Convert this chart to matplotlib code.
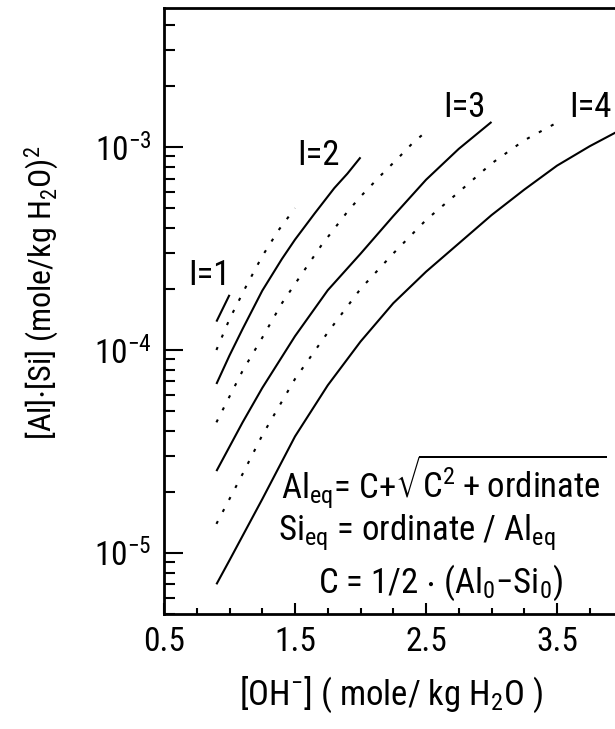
import numpy as np
import matplotlib
matplotlib.use('Agg')
import matplotlib.pyplot as plt
from matplotlib import font_manager
from matplotlib.ticker import FixedLocator, LogLocator, LogFormatterMathtext, NullFormatter

# pick a narrow sans face if the system has one
names = {f.name for f in font_manager.fontManager.ttflist}
if 'Roboto Condensed' in names:
    font = 'Roboto Condensed'
elif 'Liberation Sans Narrow' in names:
    font = 'Liberation Sans Narrow'
else:
    font = 'Liberation Sans'
plt.rcParams['font.family'] = [font, 'DejaVu Sans']
plt.rcParams['mathtext.default'] = 'regular'

# [OH-] (mole/kg H2O) vs [Al]*[Si] product, one series per ionic strength
x_i1 = [0.9, 1.0]
y_i1 = [1.38e-4, 1.87e-4]

x_i15 = [0.9, 1.0, 1.125, 1.25, 1.375, 1.5]
y_i15 = [1.0e-4, 1.42e-4, 2.05e-4, 2.9e-4, 3.9e-4, 5.0e-4]

x_i2 = [0.9, 1.0, 1.1, 1.25, 1.4, 1.5, 1.65, 1.8, 1.9, 2.0]
y_i2 = [6.8e-5, 9.4e-5, 1.27e-4, 1.96e-4, 2.81e-4, 3.5e-4, 4.71e-4, 6.28e-4, 7.4e-4, 8.9e-4]

x_i25 = [0.9, 1.0, 1.1, 1.25, 1.4, 1.55, 1.7, 1.9, 2.0, 2.15, 2.3, 2.4, 2.5]
y_i25 = [4.4e-5, 5.9e-5, 7.9e-5, 1.15e-4, 1.7e-4, 2.36e-4, 3.27e-4, 4.8e-4, 5.7e-4,
         7.2e-4, 9.0e-4, 1.05e-3, 1.19e-3]

x_i3 = [0.9, 1.1, 1.25, 1.5, 1.75, 2.0, 2.25, 2.5, 2.75, 3.0]
y_i3 = [2.53e-5, 4.4e-5, 6.5e-5, 1.17e-4, 1.97e-4, 2.98e-4, 4.57e-4, 6.9e-4, 9.8e-4, 1.33e-3]

x_i35 = [0.9, 1.1, 1.25, 1.5, 1.75, 2.0, 2.25, 2.5, 2.75, 3.0, 3.25, 3.5]
y_i35 = [1.39e-5, 2.45e-5, 3.8e-5, 7.2e-5, 1.22e-4, 2.0e-4, 2.99e-4, 4.37e-4, 6.0e-4,
         8.3e-4, 1.08e-3, 1.32e-3]

x_i4 = [0.9, 1.0, 1.25, 1.5, 1.75, 2.0, 2.25, 2.5, 2.75, 3.0, 3.25, 3.5, 3.75, 4.0]
y_i4 = [7.0e-6, 9.2e-6, 1.84e-5, 3.75e-5, 6.7e-5, 1.1e-4, 1.7e-4, 2.43e-4, 3.35e-4,
        4.62e-4, 6.17e-4, 8.1e-4, 1.01e-3, 1.23e-3]

solid = [(x_i1, y_i1), (x_i2, y_i2), (x_i3, y_i3), (x_i4, y_i4)]
dotted = [(x_i15, y_i15), (x_i25, y_i25), (x_i35, y_i35)]

x_ticks = [0.5, 1.5, 2.5, 3.5]
x_tick_labels = ['0.5', '1.5', '2.5', '3.5']

fs = 25

fig = plt.figure(figsize=(6.15, 7.29), dpi=100)
ax = fig.add_axes([0.2667, 0.1578, 0.7455, 0.8313])

for xs, ys in solid:
    ax.plot(xs, ys, color='black', lw=1.5, solid_capstyle='butt')
for xs, ys in dotted:
    ax.plot(xs, ys, color='black', lw=1.5, linestyle=(0, (1.5, 5)))

ax.set_yscale('log')
ax.set_xlim(0.5, 4.0)
ax.set_ylim(5e-6, 4.85e-3)

ax.xaxis.set_major_locator(FixedLocator(x_ticks))
ax.set_xticklabels(x_tick_labels)
ax.xaxis.set_minor_locator(FixedLocator(np.arange(0.75, 4.0, 0.25)))
ax.yaxis.set_major_locator(LogLocator(base=10))
ax.yaxis.set_major_formatter(LogFormatterMathtext())
ax.yaxis.set_minor_locator(LogLocator(base=10, subs=np.arange(2, 10)))
ax.yaxis.set_minor_formatter(NullFormatter())

ax.tick_params(axis='both', which='both', direction='in', top=False, right=False,
               labelsize=24, width=1.5)
ax.tick_params(axis='x', which='major', length=8, pad=9)
ax.tick_params(axis='x', which='minor', length=4)
ax.tick_params(axis='y', which='major', length=14, pad=9)
ax.tick_params(axis='y', which='minor', length=8)

for s in ax.spines.values():
    s.set_linewidth(2)
ax.spines['right'].set_visible(False)

ax.set_xlabel('[OH$^{-}$] ( mole/ kg H$_2$O )', fontsize=25)
ax.set_ylabel('[Al]$\\cdot$[Si] (mole/kg H$_2$O)$^2$', fontsize=23)
ax.xaxis.set_label_coords(0.495, -0.10)
ax.yaxis.set_label_coords(-0.225, 0.53)

ax.text(0.843, 2.34e-4, 'I=1', fontsize=fs, ha='center', va='center')
ax.text(1.676, 9.1e-4, 'I=2', fontsize=fs, ha='center', va='center')
ax.text(2.79, 1.57e-3, 'I=3', fontsize=fs, ha='center', va='center')
ax.text(3.59, 1.57e-3, 'I=4', fontsize=fs, ha='left', va='center')

ax.text(1.39, 2.24e-5, 'Al$_{eq}$= C+$\\sqrt{C^{2}+ordinate}$', fontsize=fs,
        ha='left', va='center')
ax.text(1.37, 1.26e-5, 'Si$_{eq}$ = ordinate / Al$_{eq}$', fontsize=fs,
        ha='left', va='center')
ax.text(1.676, 7.1e-6, 'C = 1/2 $\\cdot$ (Al$_0$$-$Si$_0$)', fontsize=fs,
        ha='left', va='center')

fig.savefig('out.png', dpi=100)
